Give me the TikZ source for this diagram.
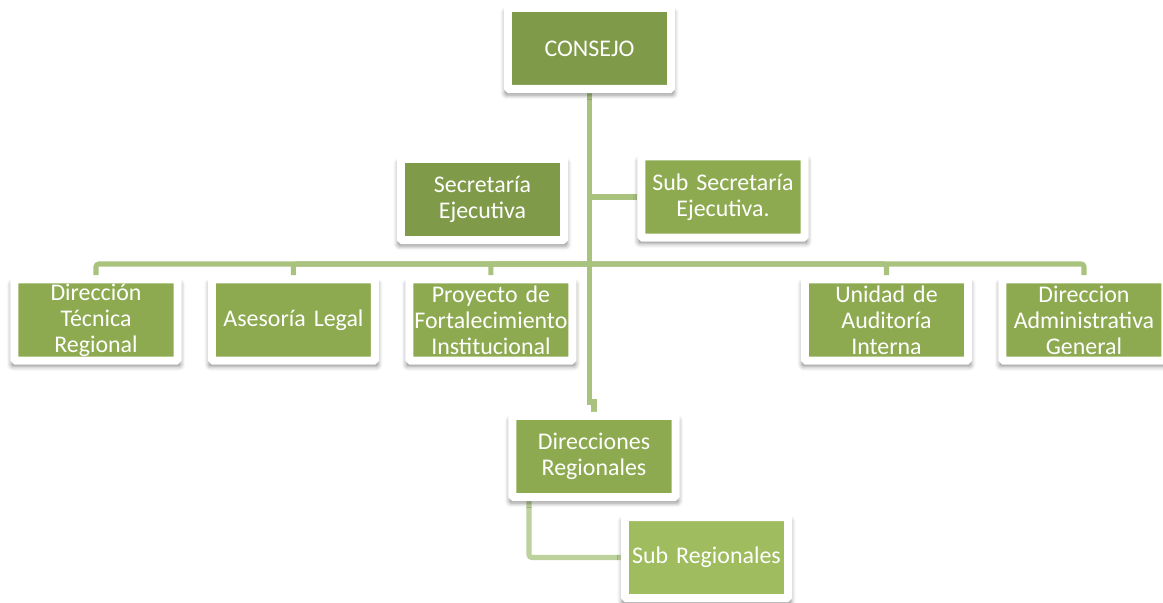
\documentclass[tikz,border=0pt]{standalone}
\usepackage{fontspec}
\setmainfont{Carlito}
\usetikzlibrary{positioning, shadows.blur, backgrounds}
\definecolor{oliva}{HTML}{7F9A48}
\definecolor{verde}{HTML}{8EAA50}
\definecolor{claro}{HTML}{9FBC5E}
\definecolor{linea}{HTML}{A9C37F}
\definecolor{lineaclara}{HTML}{BDD19D}

\begin{document}
\begin{tikzpicture}[x=0.025cm, y=-0.025cm,
  caja/.style={rectangle, fill=verde, draw=white, line width=5.7pt, rounded corners=1pt,
    minimum width=4.075cm, minimum height=2.025cm, text width=3.875cm, inner sep=0pt,
    align=center, text=white, font=\fontsize{17}{18.5}\selectfont,
    blur shadow={shadow scale=1.04, shadow xshift=0pt, shadow yshift=-3pt,
      shadow blur radius=3pt, shadow opacity=45}},
  enlace/.style={draw=linea, line width=3.6pt, rounded corners=2pt}]

  \useasboundingbox (0,0) rectangle (1163,603);

  \node[caja, fill=oliva] (consejo) at (589.5,48.5) {CONSEJO};
  \node[caja, fill=oliva] (secre) at (482.5,199.5) {Secretaría\\Ejecutiva};
  \node[caja] (subsec) at (723,197) {Sub Secretaría\\Ejecutiva.};

  \node[caja] (dtr) at (96,320) {Dirección\\Técnica\\Regional};
  \node[caja, right=0.66cm of dtr] (ases) {Asesoría Legal};
  \node[caja, right=0.66cm of ases] (proy) {Proyecto de\\Fortalecimiento\\Institucional};
  \node[caja] (unid) at (886.5,320) {Unidad de\\Auditoría\\Interna};
  \node[caja, right=0.66cm of unid] (dadm) {Direccion\\Administrativa\\General};

  \node[caja] (dreg) at (594,456.5) {Direcciones\\Regionales};
  \node[caja, fill=claro] (subreg) at (706.5,557.5) {Sub Regionales};

  \coordinate (barra) at (589.5,264);
  \coordinate (quiebre) at (589.5,402);

  \begin{scope}[on background layer]
    \draw[enlace, sharp corners] (consejo.south) -- (quiebre) -| (dreg.north);
    \draw[enlace] (consejo.south |- subsec.west) -- (subsec.west);
    \foreach \n in {dtr,ases,proy,unid,dadm}
      \draw[enlace] (barra) -| (\n.north);
    \draw[enlace, draw=lineaclara] ([xshift=-1.625cm]dreg.south) |- (subreg.west);
  \end{scope}
\end{tikzpicture}
\end{document}
